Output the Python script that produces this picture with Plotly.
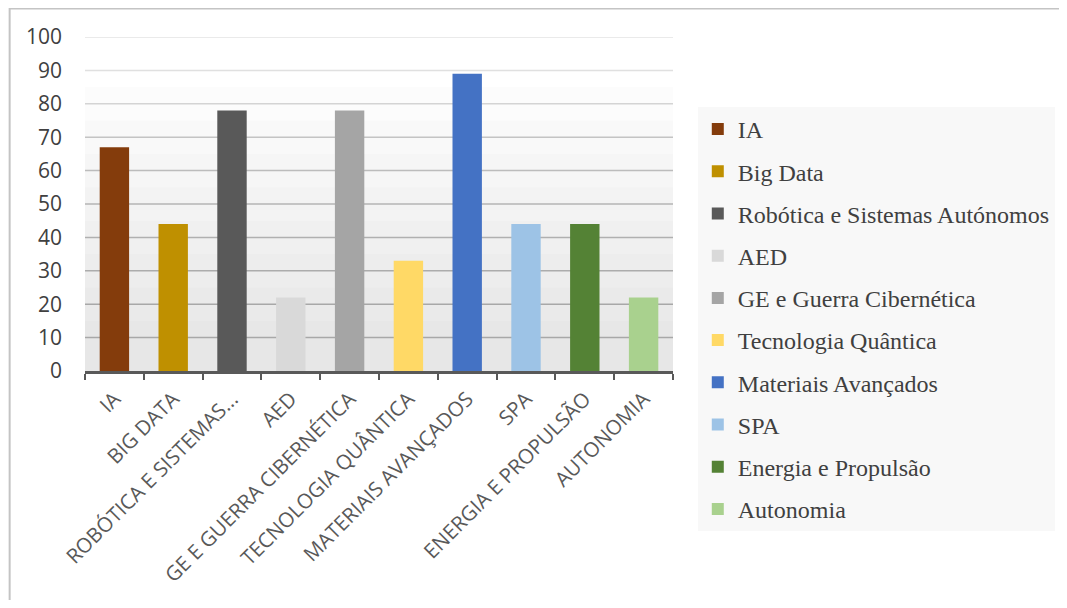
import plotly.graph_objects as go

# ---- data ----
categories = ["IA", "Big Data", "Robótica e Sistemas Autónomos", "AED",
              "GE e Guerra Cibernética", "Tecnologia Quântica",
              "Materiais Avançados", "SPA", "Energia e Propulsão", "Autonomia"]
tick_labels = ["IA", "BIG DATA", "ROBÓTICA E SISTEMAS...", "AED",
               "GE E GUERRA CIBERNÉTICA", "TECNOLOGIA QUÂNTICA",
               "MATERIAIS AVANÇADOS", "SPA", "ENERGIA E PROPULSÃO", "AUTONOMIA"]
values = [67, 44, 78, 22, 78, 33, 89, 44, 44, 22]
colors = ["#843c0c", "#bf9000", "#595959", "#d9d9d9", "#a5a5a5",
          "#ffd966", "#4472c4", "#9dc3e6", "#548235", "#a9d18e"]
y_ticks = [0, 10, 20, 30, 40, 50, 60, 70, 80, 90, 100]

OFF = 8  # page body margin
W, H = 1067 - OFF, 608 - 2 * OFF
ML = 85 - OFF
MT = 37 - OFF
MR = W - (678 - OFF)
MB = H - (371 - OFF)
PW, PH = W - ML - MR, H - MT - MB

fig = go.Figure()
for i, (name, lab, v, c) in enumerate(zip(categories, tick_labels, values, colors)):
    fig.add_trace(go.Bar(
        x=[lab], y=[v], name=name, marker=dict(color=c, line=dict(width=0)),
        width=0.5, legendgroup=f"g{i}",
    ))

# soft shading in plot area (stepped gradient)
for top in [85, 75, 65, 55, 45, 35, 25, 15]:
    fig.add_shape(type="rect", xref="paper", yref="y", x0=0, x1=1, y0=0, y1=top,
                  fillcolor="rgba(0,0,0,0.012)", line=dict(width=0), layer="below")

# graded gridlines
grid_cols = {100: "#e3e3e3", 90: "#e0e0e0", 80: "#d4d4d4", 70: "#c4c4c4",
             60: "#bcbcbc", 50: "#b4b4b4", 40: "#b0b0b0", 30: "#acacac",
             20: "#a8a8a8", 10: "#a8a8a8"}
for v in y_ticks[1:]:
    fig.add_shape(type="line", xref="paper", yref="y", x0=0, x1=1, y0=v, y1=v,
                  line=dict(color=grid_cols[v], width=1.5), layer="below")


def px_x(p):
    return (p - OFF - ML) / PW


def px_y(p):
    return (H + OFF - MB - p) / PH


# outer chart border
fig.add_shape(type="rect", xref="paper", yref="paper",
              x0=px_x(OFF + 1), x1=px_x(1067 + 20), y0=px_y(OFF + 0.5), y1=px_y(608 + 20),
              line=dict(color="#c4c4c4", width=2), fillcolor="rgba(0,0,0,0)")

fig.update_layout(
    width=W, height=H,
    margin=dict(l=ML, r=MR, t=MT, b=MB),
    paper_bgcolor="white", plot_bgcolor="white",
    barmode="relative",
    showlegend=True,
    legend=dict(
        x=px_x(703), y=px_y(107), xanchor="left", yanchor="top",
        bgcolor="#f8f8f8",
        font=dict(family="Liberation Serif", size=24, color="#404040"),
        tracegroupgap=8,
        itemwidth=30,
        maxheight=600,
    ),
    xaxis=dict(
        categoryorder="array", categoryarray=tick_labels,
        tickangle=-45,
        tickfont=dict(family="Open Sans", size=20.5, color="#595959"),
        showline=True, linecolor="#595959", linewidth=3,
        ticks="outside", tickson="boundaries", ticklen=6, tickwidth=2,
        tickcolor="#595959", showgrid=False, fixedrange=True,
        ticklabelstandoff=5,
    ),
    yaxis=dict(
        range=[0, 100], tickvals=y_ticks,
        tickfont=dict(family="Open Sans", size=21, color="#404040"),
        showgrid=False, zeroline=False, showline=False, ticks="",
        ticklabelstandoff=22,
    ),
)

fig.write_html("out.html")
